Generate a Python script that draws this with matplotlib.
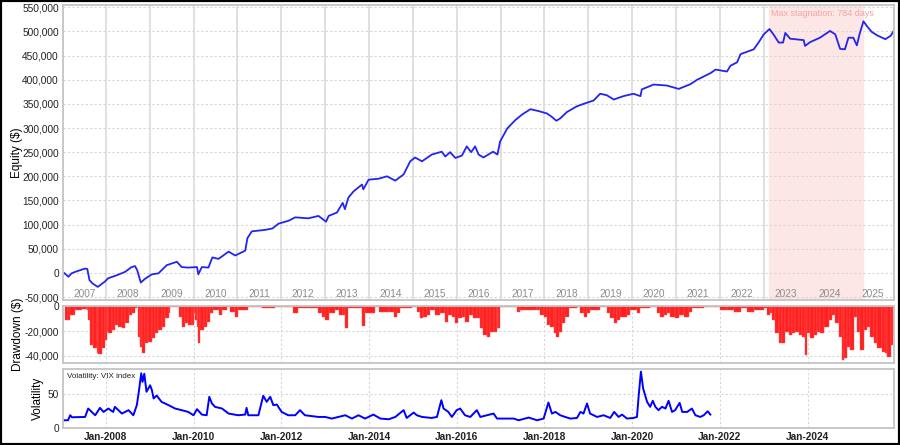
import matplotlib
matplotlib.use("Agg")
import matplotlib.pyplot as plt
import matplotlib.dates as mdates
from matplotlib.patches import Rectangle
from matplotlib.ticker import FuncFormatter
import numpy as np
import pandas as pd

plt.rcParams["font.family"] = ["Liberation Sans", "DejaVu Sans"]

# ---------------------------- data (decimal years) ----------------------------
equity_t = [2007.05, 2007.15, 2007.22, 2007.30, 2007.53, 2007.58, 2007.63, 2007.70, 2007.82,
            2007.98, 2008.06, 2008.25, 2008.44, 2008.59, 2008.67, 2008.72, 2008.80, 2008.90,
            2009.05, 2009.20, 2009.39, 2009.62, 2009.73, 2009.88, 2010.08, 2010.11, 2010.19,
            2010.34, 2010.43, 2010.57, 2010.80, 2010.95, 2011.18, 2011.23, 2011.33, 2011.63,
            2011.80, 2011.94, 2012.17, 2012.32, 2012.62, 2012.85, 2013.02, 2013.08, 2013.27,
            2013.40, 2013.45, 2013.53, 2013.65, 2013.84, 2013.87, 2013.99, 2014.22, 2014.41,
            2014.60, 2014.79, 2014.94, 2015.05, 2015.21, 2015.43, 2015.66, 2015.74, 2015.85,
            2015.97, 2016.12, 2016.23, 2016.33, 2016.42, 2016.50, 2016.61, 2016.83, 2016.93,
            2016.99, 2017.15, 2017.33, 2017.49, 2017.68, 2017.87, 2018.06, 2018.17, 2018.27,
            2018.36, 2018.51, 2018.74, 2018.89, 2019.12, 2019.27, 2019.42, 2019.58, 2019.80,
            2020.03, 2020.19, 2020.22, 2020.49, 2020.79, 2021.06, 2021.33, 2021.48, 2021.79,
            2021.90, 2022.16, 2022.24, 2022.39, 2022.47, 2022.77, 2022.88, 2023.00, 2023.13,
            2023.22, 2023.34, 2023.44, 2023.49, 2023.60, 2023.91, 2023.94, 2024.06, 2024.28,
            2024.51, 2024.63, 2024.74, 2024.85, 2024.93, 2025.04, 2025.12, 2025.18, 2025.27,
            2025.35, 2025.46, 2025.58, 2025.77, 2025.89, 2025.96]
equity_v = [0, -8000, -1000, 2000, 9000, 8000, -15000, -22000, -29000,
            -18000, -11000, -5000, 2000, 12000, 14000, 5000, -20000, -12000,
            -3000, -1000, 16000, 23000, 12000, 11000, 12000, -3000, 12000,
            11000, 32000, 29000, 44000, 36000, 46000, 72000, 86000, 89000,
            92000, 102000, 108000, 115000, 113000, 118000, 106000, 118000, 125000,
            145000, 132000, 156000, 169000, 183000, 173000, 193000, 195000, 200000,
            191000, 204000, 231000, 239000, 231000, 245000, 251000, 241000, 250000,
            238000, 243000, 262000, 250000, 262000, 245000, 239000, 251000, 245000,
            272000, 299000, 316000, 328000, 339000, 335000, 330000, 323000, 315000,
            320000, 333000, 345000, 350000, 357000, 371000, 368000, 359000, 366000,
            371000, 366000, 380000, 390000, 388000, 381000, 391000, 400000, 414000,
            421000, 417000, 429000, 436000, 453000, 463000, 477000, 494000, 505000,
            494000, 477000, 477000, 497000, 485000, 482000, 470000, 478000, 487000,
            501000, 494000, 464000, 463000, 487000, 487000, 471000, 494000, 521000,
            511000, 499000, 492000, 484000, 491000, 501000]

drawdown_t = [2007.07, 2007.15, 2007.19, 2007.30, 2007.45, 2007.57, 2007.60, 2007.64, 2007.72,
              2007.80, 2007.83, 2007.91, 2007.98, 2008.02, 2008.06, 2008.14, 2008.21, 2008.29,
              2008.37, 2008.44, 2008.52, 2008.59, 2008.67, 2008.71, 2008.74, 2008.78, 2008.82,
              2008.90, 2008.97, 2009.05, 2009.12, 2009.20, 2009.28, 2009.35, 2009.43, 2009.47,
              2009.58, 2009.66, 2009.73, 2009.81, 2009.88, 2009.96, 2010.02, 2010.04, 2010.08,
              2010.11, 2010.15, 2010.23, 2010.30, 2010.38, 2010.45, 2010.57, 2010.65, 2010.76,
              2010.84, 2010.95, 2011.02, 2011.25, 2011.56, 2011.86, 2012.16, 2012.26, 2012.39,
              2012.62, 2012.85, 2012.93, 2013.00, 2013.08, 2013.23, 2013.32, 2013.40, 2013.46,
              2013.53, 2013.69, 2013.84, 2013.85, 2013.91, 2014.14, 2014.22, 2014.45, 2014.56,
              2014.64, 2014.71, 2014.98, 2015.09, 2015.17, 2015.24, 2015.32, 2015.40, 2015.51,
              2015.62, 2015.74, 2015.81, 2015.89, 2015.97, 2016.04, 2016.12, 2016.19, 2016.27,
              2016.38, 2016.46, 2016.54, 2016.61, 2016.69, 2016.76, 2016.84, 2016.92, 2016.95,
              2016.99, 2017.30, 2017.37, 2017.45, 2017.83, 2017.90, 2017.98, 2018.06, 2018.13,
              2018.21, 2018.27, 2018.32, 2018.40, 2018.47, 2018.55, 2018.74, 2018.82, 2018.89,
              2018.97, 2019.04, 2019.27, 2019.42, 2019.50, 2019.59, 2019.65, 2019.73, 2019.88,
              2019.96, 2020.11, 2020.19, 2020.41, 2020.57, 2020.64, 2020.72, 2020.79, 2020.87,
              2020.98, 2021.06, 2021.17, 2021.29, 2021.36, 2021.63, 2022.01, 2022.16, 2022.31,
              2022.47, 2022.62, 2022.77, 2023.00, 2023.07, 2023.15, 2023.19, 2023.26, 2023.34,
              2023.42, 2023.49, 2023.57, 2023.64, 2023.72, 2023.80, 2023.87, 2023.95, 2023.99,
              2024.06, 2024.14, 2024.21, 2024.29, 2024.37, 2024.48, 2024.56, 2024.63, 2024.71,
              2024.78, 2024.82, 2024.90, 2024.97, 2025.05, 2025.13, 2025.20, 2025.28, 2025.35,
              2025.43, 2025.51, 2025.58, 2025.70, 2025.77, 2025.81, 2025.89, 2025.95]
drawdown_v = [-11200, -11200, -7200, -3200, -2500, -3200, -11200, -31200, -33900,
              -37300, -38400, -33900, -27200, -20500, -21900, -19200, -15200, -16500,
              -17900, -13900, -7200, -5900, -1900, -500, -24500, -32500, -37300,
              -29900, -28500, -25900, -21900, -19200, -16500, -9900, -5900, -500,
              -500, -8500, -16500, -13900, -15200, -15200, -5900, -11200, -16500,
              -29900, -19200, -16500, -12500, -5900, -3200, -7200, -3200, -1100,
              -4500, -8500, -3200, -1100, -1900, -500, -500, -5900, -1900,
              -1900, -5900, -8500, -11200, -5900, -3200, -7200, -7200, -17900,
              -1900, -1900, -4500, -16000, -5900, -1100, -4500, -4500, -8500,
              -5900, -1900, -500, -4500, -9900, -8500, -7200, -3200, -7200,
              -5900, -12500, -7200, -8500, -13900, -9900, -8500, -12500, -7200,
              -9900, -9900, -17900, -23200, -25100, -20500, -20500, -17900, -17900,
              -500, -500, -4500, -3200, -3200, -7200, -8500, -15200, -16500,
              -21900, -24500, -20500, -13900, -8500, -1900, -500, -5900, -8500,
              -5900, -3200, -500, -5900, -9900, -13900, -11200, -8500, -7200,
              -3200, -5900, -1900, -1100, -5900, -8500, -7200, -5900, -8500,
              -9900, -7200, -8500, -4500, -1900, -500, -3200, -3200, -4500,
              -1900, -4500, -3200, -1900, -7200, -5900, -11200, -21900, -29900,
              -29900, -20500, -23200, -21900, -20500, -23200, -24500, -39200, -21900,
              -25900, -23200, -20500, -21900, -16500, -11200, -7200, -13900, -24500,
              -43200, -41900, -32500, -35200, -8500, -20500, -35200, -19200, -16500,
              -24500, -29900, -33900, -36500, -37800, -40500, -31200, -24500]

vix_t = [2007.03, 2007.14, 2007.19, 2007.23, 2007.53, 2007.60, 2007.68, 2007.76, 2007.87,
         2007.95, 2008.06, 2008.17, 2008.21, 2008.37, 2008.52, 2008.63, 2008.71, 2008.76,
         2008.81, 2008.84, 2008.88, 2008.93, 2009.01, 2009.05, 2009.09, 2009.16, 2009.27,
         2009.43, 2009.58, 2009.73, 2009.88, 2010.00, 2010.08, 2010.19, 2010.30, 2010.36,
         2010.42, 2010.49, 2010.65, 2010.80, 2011.02, 2011.18, 2011.21, 2011.25, 2011.48,
         2011.59, 2011.67, 2011.75, 2011.82, 2011.90, 2012.01, 2012.16, 2012.32, 2012.43,
         2012.54, 2012.85, 2013.00, 2013.15, 2013.46, 2013.61, 2013.76, 2013.91, 2014.10,
         2014.26, 2014.45, 2014.60, 2014.79, 2014.86, 2015.02, 2015.09, 2015.21, 2015.43,
         2015.55, 2015.65, 2015.70, 2015.81, 2015.89, 2016.00, 2016.08, 2016.19, 2016.31,
         2016.46, 2016.54, 2016.69, 2016.84, 2016.92, 2017.30, 2017.41, 2017.64, 2017.83,
         2017.98, 2018.09, 2018.17, 2018.25, 2018.36, 2018.47, 2018.59, 2018.74, 2018.82,
         2018.89, 2018.97, 2019.04, 2019.20, 2019.35, 2019.50, 2019.59, 2019.69, 2019.77,
         2019.88, 2020.03, 2020.11, 2020.15, 2020.20, 2020.25, 2020.34, 2020.41, 2020.47,
         2020.53, 2020.60, 2020.68, 2020.76, 2020.83, 2020.91, 2020.98, 2021.08, 2021.14,
         2021.25, 2021.36, 2021.44, 2021.55, 2021.63, 2021.72, 2021.78]
vix_v = [11.4, 11.4, 18.8, 15.8, 16.3, 28.7, 23.7, 18.8, 29.7,
         23.7, 28.7, 23.7, 31.2, 21.3, 26.3, 18.8, 33.7, 56.0,
         80.7, 68.0, 80.0, 53.4, 63.0, 56.0, 43.6, 47.9, 38.6,
         33.7, 28.7, 26.3, 23.7, 18.8, 27.8, 19.8, 18.8, 46.0,
         36.2, 31.2, 28.7, 21.3, 18.8, 19.8, 29.7, 18.8, 18.8,
         47.5, 38.6, 46.0, 33.7, 34.6, 23.7, 18.8, 18.8, 26.3,
         18.8, 16.3, 16.3, 13.9, 18.8, 13.9, 18.8, 13.9, 19.8,
         13.9, 12.9, 16.3, 26.3, 14.8, 22.8, 18.8, 16.3, 14.8,
         16.3, 41.0, 28.7, 23.7, 16.3, 26.3, 28.7, 18.8, 16.3,
         26.3, 16.3, 18.8, 21.3, 13.9, 13.9, 11.4, 15.4, 11.4,
         13.9, 37.6, 21.3, 23.7, 18.8, 16.3, 13.9, 14.8, 23.7,
         21.3, 36.2, 21.3, 16.3, 18.8, 14.8, 23.7, 16.3, 19.8,
         13.9, 14.8, 16.3, 48.5, 83.1, 58.5, 38.6, 31.2, 40.1,
         31.2, 26.3, 31.2, 28.7, 40.1, 23.7, 26.3, 37.1, 23.7,
         23.7, 28.7, 18.8, 16.3, 18.8, 24.7, 19.8]

stagnation_start = 2023.13
stagnation_end = 2025.27
stagnation_days = 784
x_start, x_end = 2007.026, 2025.966


def to_dates(years):
    out = []
    for y in years:
        yr = int(y)
        out.append(pd.Timestamp(yr, 1, 1) + pd.Timedelta(days=(y - yr) * 365.25))
    return out


def style_axis(ax):
    for s in ax.spines.values():
        s.set_color("#c4c4c4")
        s.set_linewidth(1.3)
    ax.tick_params(length=0, labelsize=7.3, pad=3, colors="#222222")
    ax.set_xlim(to_dates([x_start])[0], to_dates([x_end])[0])


def main():
    fig = plt.figure(figsize=(9, 4.45), dpi=100)
    ax_eq = fig.add_axes([0.07, 0.3258, 0.9233, 0.663])
    ax_dd = fig.add_axes([0.07, 0.1843, 0.9233, 0.128])
    ax_vx = fig.add_axes([0.07, 0.0382, 0.9233, 0.1326])

    comma = FuncFormatter(lambda v, p: f"{v:,.0f}")
    two_years = mdates.YearLocator(2)

    # ------------------------------- equity -------------------------------
    style_axis(ax_eq)
    ax_eq.set_ylim(-56200, 554800)
    ax_eq.set_yticks(np.arange(-50000, 550001, 50000))
    ax_eq.yaxis.set_major_formatter(comma)
    ax_eq.set_xticks([])
    ax_eq.grid(axis="y", color="#d6d6d6", linestyle=(0, (2, 2)), linewidth=0.8)
    for yr in range(2008, 2026):
        ax_eq.axvline(pd.Timestamp(yr, 1, 1), color="#dadada", linewidth=1.2, zorder=0)
    for yr in range(2007, 2026):
        lo, hi = max(yr, x_start), min(yr + 1, x_end)
        mid = to_dates([(lo + hi) / 2])[0]
        ax_eq.text(mid, 0.004, str(yr), transform=ax_eq.get_xaxis_transform(),
                   ha="center", va="bottom", fontsize=7.3, color="#8c8c8c")
    s0, s1 = to_dates([stagnation_start, stagnation_end])
    ax_eq.axvspan(s0, s1, color="#fde6e6", zorder=0)
    ax_eq.text(s0 + pd.Timedelta(days=12), 0.985, f"Max stagnation: {stagnation_days} days",
               transform=ax_eq.get_xaxis_transform(), ha="left", va="top",
               fontsize=6.5, color="#f5a3a3")
    ax_eq.plot(to_dates(equity_t), equity_v, color="#2424f0", linewidth=1.3)
    ax_eq.set_ylabel("Equity ($)", fontsize=8.5)
    ax_eq.yaxis.set_label_coords(-0.048, 0.5)

    # ------------------------------ drawdown ------------------------------
    style_axis(ax_dd)
    dd_dates = to_dates(drawdown_t)
    nums = mdates.date2num(dd_dates)
    widths = np.append(np.diff(nums), 8)
    ax_dd.bar(dd_dates, drawdown_v, width=widths, align="edge", color="#ff2020",
              edgecolor="#ff5a5a", linewidth=0.3)
    ax_dd.set_ylim(-45600, 0)
    ax_dd.set_yticks([0, -20000, -40000])
    ax_dd.yaxis.set_major_formatter(comma)
    ax_dd.xaxis.set_major_locator(two_years)
    ax_dd.tick_params(axis="x", labelbottom=False)
    ax_dd.grid(color="#d6d6d6", linestyle=(0, (2, 2)), linewidth=0.8)
    ax_dd.set_axisbelow(True)
    ax_dd.set_ylabel("Drawdown ($)", fontsize=8.5)
    ax_dd.yaxis.set_label_coords(-0.047, 0.5)

    # ----------------------------- volatility -----------------------------
    style_axis(ax_vx)
    ax_vx.plot(to_dates(vix_t), vix_v, color="#0000ff", linewidth=1.4)
    ax_vx.set_ylim(0, 87)
    ax_vx.set_yticks([0, 50])
    ax_vx.xaxis.set_major_locator(two_years)
    ax_vx.xaxis.set_major_formatter(mdates.DateFormatter("%b-%Y"))
    for lab in ax_vx.get_xticklabels():
        lab.set_fontweight("bold")
    ax_vx.grid(color="#d6d6d6", linestyle=(0, (2, 2)), linewidth=0.8)
    ax_vx.set_axisbelow(True)
    ax_vx.text(0.005, 0.93, "Volatility: VIX index", transform=ax_vx.transAxes,
               ha="left", va="top", fontsize=5.8, color="#222222", zorder=5)
    ax_vx.set_ylabel("Volatility", fontsize=8.5)
    ax_vx.yaxis.set_label_coords(-0.023, 0.5)

    fig.patches.append(Rectangle((0, 0), 1, 1, transform=fig.transFigure, fill=False,
                                 edgecolor="black", linewidth=3))
    fig.savefig("out.png", dpi=100)
    plt.close(fig)


if __name__ == "__main__":
    main()
